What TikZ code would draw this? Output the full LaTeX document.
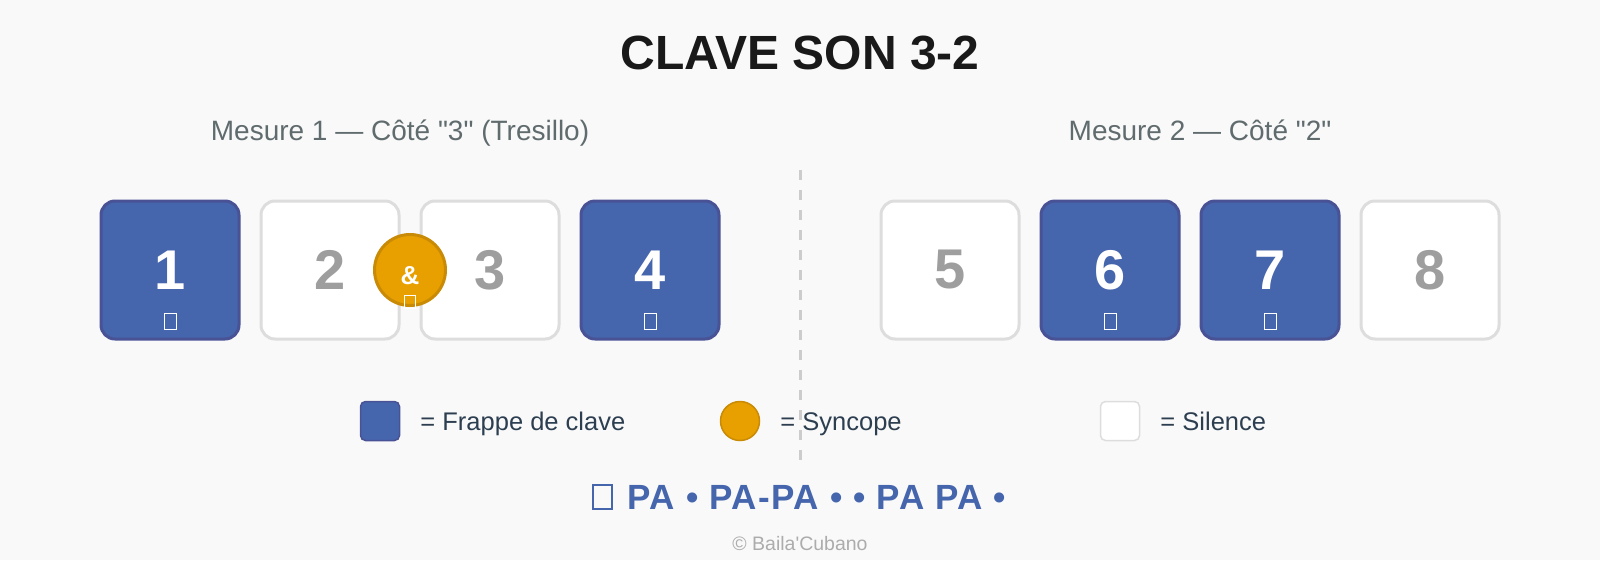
\documentclass[tikz,border=0pt]{standalone}
\usepackage{fontspec}
\newfontfamily\clave{Liberation Sans}
\usetikzlibrary{positioning,calc}
\definecolor{fond}{HTML}{F9F9F9}
\definecolor{bleu}{HTML}{4565AD}
\definecolor{bleubord}{HTML}{4A5296}
\definecolor{syncorange}{HTML}{E8A000}
\definecolor{syncbord}{HTML}{C98A05}
\definecolor{gristrait}{HTML}{DDDDDD}
\definecolor{grischiffre}{HTML}{9E9E9E}
\definecolor{grissous}{HTML}{606B6E}
\definecolor{encre}{HTML}{2C3E50}
\newcommand\taille[1]{\fontsize{#1}{#1}\selectfont}

\begin{document}
\begin{tikzpicture}[x=1pt,y=-1pt,
  case/.style={rectangle,rounded corners=14pt,minimum size=138pt,line width=3pt,inner sep=0pt,font=\clave\taille{56}\bfseries},
  frappe/.style={case,fill=bleu,draw=bleubord,text=white},
  silence/.style={case,fill=white,draw=gristrait,text=grischiffre},
  tofu/.style={draw=white,line width=.9pt,minimum width=12pt,minimum height=16pt,inner sep=0pt},
  legtext/.style={anchor=base west,inner sep=0pt,text=encre,font=\clave\taille{25.5}}]
\fill[fond] (0,0) rectangle (1600,560);
%
\node[text=black!90,font=\clave\taille{48}\bfseries] (titre) at (800,53) {CLAVE SON 3-2};
\node[anchor=base,text=grissous,font=\clave\taille{28}] (mes1) at (400,140) {Mesure 1 — Côté "3" (Tresillo)};
\node[anchor=base,text=grissous,font=\clave\taille{28}] (mes2) at (1200,140) {Mesure 2 — Côté "2"};
%
\coordinate (haut) at (800,170);
\coordinate (bas) at (800,460);
\draw[gray!40,line width=3pt,dash pattern=on 10pt off 10pt] (haut) -- (bas);
%
\foreach \n/\x/\k in {1/170/frappe,2/330/silence,3/490/silence,4/650/frappe,
                      5/950/silence,6/1110/frappe,7/1270/frappe,8/1430/silence}
  \node[\k] (b\n) at (\x,270) {\n};
\foreach \n in {1,4,6,7}
  \node[tofu] (t\n) at ($(b\n)+(0,51)$) {};
%
\node[circle,fill=syncorange,draw=syncbord,line width=3pt,minimum size=71pt,inner sep=0pt] (sync) at (410,270) {};
\node[text=white,font=\clave\taille{26}\bfseries,inner sep=0pt] (et) at ($(sync)+(0,6)$) {\&};
\node[tofu,minimum width=11pt,minimum height=13pt] (tsync) at ($(sync)+(0,32)$) {};
%
\node[rectangle,rounded corners=5pt,minimum size=39pt,line width=1.5pt,fill=bleu,draw=bleubord] (k1) at (380,421) {};
\node[legtext] (l1) at ($(k1.east)+(20,9)$) {= Frappe de clave};
\node[circle,minimum size=39pt,line width=1.5pt,fill=syncorange,draw=syncbord] (k2) at (740,421) {};
\node[legtext] (l2) at ($(k2.east)+(20,9)$) {= Syncope};
\node[rectangle,rounded corners=5pt,minimum size=39pt,line width=1.5pt,fill=white,draw=gristrait] (k3) at (1120,421) {};
\node[legtext] (l3) at ($(k3.east)+(20,9)$) {= Silence};
%
\node[anchor=base,inner sep=0pt,text=bleu,font=\clave\taille{35}\bfseries\addfontfeatures{LetterSpace=4}] (chant) at (817,509) {PA • PA-PA • • PA PA •};
\node[draw=bleu,line width=1.5pt,minimum width=19pt,minimum height=24pt,inner sep=0pt,left=15pt of chant] (tchant) {};
\node[anchor=base,text=gray!65,font=\clave\taille{19.5}] (copy) at (800,550) {© Baila'Cubano};
\end{tikzpicture}
\end{document}
